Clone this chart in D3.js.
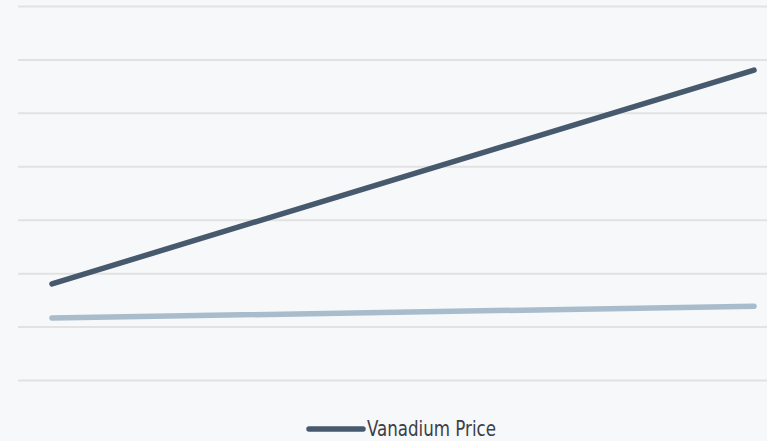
<!DOCTYPE html>
<html>
<head>
<meta charset="utf-8">
<script src="https://cdn.jsdelivr.net/npm/d3@7"></script>
<style>
  html, body { margin: 0; padding: 0; background: #f6f8fa; }
  svg { display: block; }
</style>
</head>
<body>
<div class="chart"></div>
<script>
// two points per series, no x labels shown
var periods = ["start", "end"];
var vanadiumPrice = [9.0, 29.0];
var otherPrice = [5.8, 6.9];
var yTicks = [0, 5, 10, 15, 20, 25, 30, 35];
var legendLabel = "Vanadium Price";

var width = 767, height = 441;

var svg = d3.select(".chart").append("svg")
    .attr("width", width)
    .attr("height", height);

svg.append("rect")
    .attr("width", width)
    .attr("height", height)
    .attr("fill", "#f6f8fa");

var xScale = d3.scalePoint()
    .domain(periods)
    .range([52, 754]);

var yScale = d3.scaleLinear()
    .domain([0, 35])
    .range([380, 6]);

// gridlines
svg.append("g")
    .attr("class", "y grid")
    .attr("transform", "translate(18,0)")
    .call(d3.axisRight(yScale).tickValues(yTicks).tickSize(width - 18).tickFormat(""))
    .call(function (g) {
        g.select(".domain").remove();
        g.selectAll("line").attr("stroke", "#e2e2e2").attr("stroke-width", 2);
    });

var line = d3.line()
    .x(function (d, i) { return xScale(periods[i]); })
    .y(function (d) { return yScale(d); });

svg.append("path")
    .datum(otherPrice)
    .attr("fill", "none")
    .attr("stroke", "#a9bccb")
    .attr("stroke-width", 5.5)
    .attr("stroke-linecap", "round")
    .attr("d", line);

svg.append("path")
    .datum(vanadiumPrice)
    .attr("fill", "none")
    .attr("stroke", "#475a6d")
    .attr("stroke-width", 5.5)
    .attr("stroke-linecap", "round")
    .attr("d", line);

// legend
var legend = svg.append("g").attr("class", "legend");

legend.append("line")
    .attr("x1", 309).attr("x2", 363)
    .attr("y1", 429).attr("y2", 429)
    .attr("stroke", "#475a6d")
    .attr("stroke-width", 5.5)
    .attr("stroke-linecap", "round");

legend.append("text")
    .attr("x", 367)
    .attr("y", 436)
    .attr("textLength", 129)
    .attr("lengthAdjust", "spacingAndGlyphs")
    .style("font-family", "'Liberation Sans Narrow', 'DejaVu Sans Condensed', sans-serif")
    .style("font-size", "22px")
    .attr("fill", "#3b4047")
    .text(legendLabel);
</script>
</body>
</html>
